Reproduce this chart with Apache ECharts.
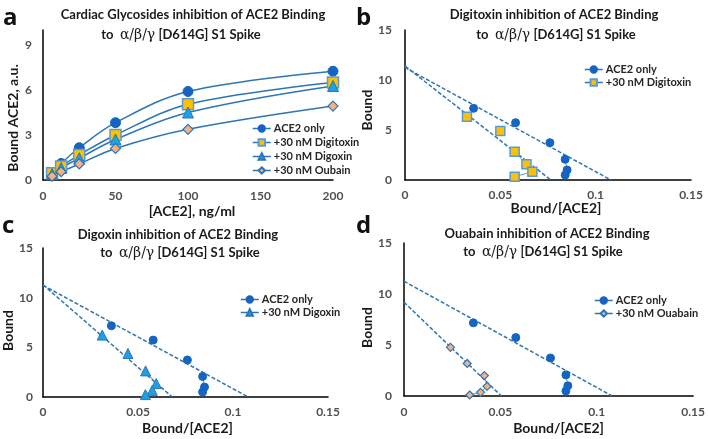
<!DOCTYPE html>
<html><head><meta charset="utf-8">
<script src="https://cdn.jsdelivr.net/npm/echarts@6/dist/echarts.min.js"></script>
<style>html,body{margin:0;padding:0;background:#fff}#c{width:708px;height:439px}</style>
</head><body><div id="c"></div>
<script>
// ---------- Panel a: saturation binding ----------
const concA = [6.25, 12.5, 25, 50, 100, 200];           // [ACE2], ng/ml
const aAce2 = [0.45, 1.1, 2.15, 3.82, 5.9, 7.25];
const aDigitoxin = [0.45, 0.9, 1.67, 3.0, 5.05, 6.5];
const aDigoxin = [0.4, 0.8, 1.45, 2.7, 4.5, 6.27];
const aOuabain = [0.25, 0.55, 1.07, 2.1, 3.38, 4.93];
const aYTicks = [0, 3, 6, 9];
const aXTicks = [0, 50, 100, 150, 200];

// ---------- Scatchard panels b, c, d: x = Bound/[ACE2], y = Bound ----------
const scAce2X = [0.036, 0.058, 0.076, 0.084, 0.085, 0.084];
const scAce2Y = [7.17, 5.73, 3.73, 2.07, 1.0, 0.5];
const scDigitoxinX = [0.0325, 0.05, 0.0575, 0.0637, 0.0668, 0.0575];
const scDigitoxinY = [6.33, 4.9, 2.83, 1.57, 0.83, 0.33];
const scDigoxinX = [0.0312, 0.0447, 0.054, 0.0596, 0.0575, 0.0539];
const scDigoxinY = [6.23, 4.38, 2.63, 1.35, 0.67, 0.24];
const scOuabainX = [0.0241, 0.0328, 0.0417, 0.0431, 0.0397, 0.0341];
const scOuabainY = [4.77, 3.19, 2.0, 0.95, 0.36, 0.1];
// linear fits: [Bound intercept, Bound/[ACE2] intercept]
const fitAce2 = [11.25, 0.108];
const fitDigitoxin = [11.4, 0.0765];
const fitDigoxin = [11.3, 0.068];
const fitOuabain = [9.2, 0.0505];
const scXTicks = [0, 0.05, 0.1, 0.15];
const scYTicks = [0, 5, 10, 15];

const FONT = 'Lato';
const BLUE = '#2e75b6';
const DOT = '#1565c0';
const zip = (xs, ys) => xs.map((x, i) => [x, ys[i]]);

const chart = echarts.init(document.getElementById('c'), null, {renderer: 'canvas'});

const labelStyle = (margin) => ({color: '#505050', fontWeight: 'bold', fontSize: 12, fontFamily: FONT, margin});
const nameStyle = (pad) => ({color: '#1a1a1a', fontWeight: 'bold', fontSize: 14, fontFamily: FONT, padding: pad});
const axLine = {show: true, lineStyle: {color: '#000', width: 1.5}};

function xAx(grid, min, max, interval, name, gap, margin, shift) {
  return {type: 'value', gridIndex: grid, min, max, interval, name, nameLocation: 'middle', nameGap: gap,
    nameTextStyle: nameStyle([0, 0, 0, 2 * shift]), axisLine: axLine, axisTick: {show: false}, splitLine: {show: false},
    axisLabel: labelStyle(margin)};
}
function yAx(grid, min, max, interval, name, gap, margin, shift, hideMax) {
  return {type: 'value', gridIndex: grid, min, max, interval, name, nameLocation: 'middle', nameGap: gap,
    nameTextStyle: nameStyle([0, 2 * shift, 0, 0]), axisLine: axLine, axisTick: {show: false}, splitLine: {show: false},
    axisLabel: Object.assign(labelStyle(margin), {showMaxLabel: !hideMax})};
}

const styles = {
  ace2: {symbol: 'circle', itemStyle: {color: DOT, borderColor: DOT, borderWidth: 1}},
  digitoxin: {symbol: 'rect', itemStyle: {color: '#ffc000', borderColor: '#5b9bd5', borderWidth: 1.5}},
  digoxin: {symbol: 'triangle', itemStyle: {color: '#1ea0e6', borderColor: BLUE, borderWidth: 1}},
  ouabain: {symbol: 'diamond', itemStyle: {color: '#f4b183', borderColor: BLUE, borderWidth: 1.2}}
};

const series = [];
// Panel a
[['ACE2 only#a', aAce2, 'ace2', 10], ['+30 nM Digitoxin#a', aDigitoxin, 'digitoxin', 11],
 ['+30 nM Digoxin#a', aDigoxin, 'digoxin', 11], ['+30 nM Oubain#a', aOuabain, 'ouabain', 10]]
 .forEach(([name, ys, st, size]) => {
  series.push(Object.assign({type: 'line', name, xAxisIndex: 0, yAxisIndex: 0, smooth: 0.35,
    data: zip(concA, ys), symbolSize: size, lineStyle: {color: BLUE, width: 1.5}, z: 3}, styles[st]));
});

function scatchard(idx, panel, name, st, xs, ys, size, fit, connFrom) {
  series.push(Object.assign({type: 'line', name: name + '#' + panel, xAxisIndex: idx, yAxisIndex: idx,
    data: zip(xs, ys), symbolSize: size, lineStyle: {color: BLUE, width: 1, opacity: 0}, z: 4}, styles[st]));
  series.push({type: 'line', xAxisIndex: idx, yAxisIndex: idx, data: zip(xs, ys).slice(connFrom),
    symbol: 'none', lineStyle: {color: '#5b9bd5', width: 1}, z: 2, silent: true});
  series.push({type: 'line', xAxisIndex: idx, yAxisIndex: idx, data: [[0, fit[0]], [fit[1], 0]],
    symbol: 'none', lineStyle: {color: BLUE, width: 1.5, type: [4, 2]}, z: 2, silent: true});
}
scatchard(1, 'b', 'ACE2 only', 'ace2', scAce2X, scAce2Y, 8, fitAce2, 3);
scatchard(1, 'b', '+30 nM Digitoxin', 'digitoxin', scDigitoxinX, scDigitoxinY, 9, fitDigitoxin, 2);
scatchard(2, 'c', 'ACE2 only', 'ace2', scAce2X, scAce2Y, 8, fitAce2, 3);
scatchard(2, 'c', '+30 nM Digoxin', 'digoxin', scDigoxinX, scDigoxinY, 10, fitDigoxin, 2);
scatchard(3, 'd', 'ACE2 only', 'ace2', scAce2X, scAce2Y, 8, fitAce2, 3);
scatchard(3, 'd', '+30 nM Ouabain', 'ouabain', scOuabainX, scOuabainY, 8, fitOuabain, 2);

function legend(panel, names, left, top, gap) {
  return {orient: 'vertical', left, top, padding: 0, itemGap: gap, itemWidth: 18, itemHeight: 8,
    data: names.map(n => n + '#' + panel), formatter: n => n.split('#')[0],
    lineStyle: {opacity: 1, width: 1.5, color: BLUE},
    textStyle: {fontFamily: FONT, fontWeight: 'bold', fontSize: 11, color: '#262626', padding: [0, 0, 0, -2]},
    selectedMode: false};
}

function titleLines(cx1, y1, cx2, y2, line1) {
  return [
    {type: 'text', style: {x: cx1, y: y1, text: line1, align: 'center', verticalAlign: 'middle',
      font: 'bold 13px ' + FONT, fill: '#1a1a1a'}},
    {type: 'text', style: {x: cx2, y: y2, align: 'center', verticalAlign: 'middle',
      text: '{b|to  }{g|α/β/γ}{b| [D614G] S1 Spike}',
      rich: {b: {fontFamily: FONT, fontWeight: 'bold', fontSize: 13, fill: '#1a1a1a'},
             g: {fontFamily: 'DejaVu Serif', fontSize: 14, fill: '#1a1a1a'}}}}
  ];
}
function letter(x, y, t) {
  return {type: 'text', style: {x, y, text: t, font: 'bold 24px "Open Sans"', fill: '#111', verticalAlign: 'bottom'}};
}

const option = {
  animation: false,
  backgroundColor: '#fff',
  grid: [
    {left: 43, top: 30, width: 290, height: 150},
    {left: 405, top: 30, width: 286, height: 150},
    {left: 43, top: 248, width: 285, height: 149},
    {left: 404, top: 243, width: 290, height: 153}
  ],
  xAxis: [
    xAx(0, aXTicks[0], aXTicks[aXTicks.length - 1], aXTicks[1] - aXTicks[0], '[ACE2], ng/ml', 24, 10, 4),
    xAx(1, scXTicks[0], scXTicks[3], 0.05, 'Bound/[ACE2]', 21, 9, 8),
    xAx(2, scXTicks[0], scXTicks[3], 0.05, 'Bound/[ACE2]', 24, 9, 2),
    xAx(3, scXTicks[0], scXTicks[3], 0.05, 'Bound/[ACE2]', 25, 10, 10)
  ],
  yAxis: [
    yAx(0, aYTicks[0], 10, aYTicks[1] - aYTicks[0], 'Bound ACE2, a.u.', 23, 11, 13, true),
    yAx(1, scYTicks[0], scYTicks[3], 5, 'Bound', 24, 13, 5),
    yAx(2, scYTicks[0], scYTicks[3], 5, 'Bound', 19, 10, 8),
    yAx(3, scYTicks[0], scYTicks[3], 5, 'Bound', 23, 12, 8)
  ],
  legend: [
    legend('a', ['ACE2 only', '+30 nM Digitoxin', '+30 nM Digoxin', '+30 nM Oubain'], 252, 123, 3),
    legend('b', ['ACE2 only', '+30 nM Digitoxin'], 584, 64, 2),
    legend('c', ['ACE2 only', '+30 nM Digoxin'], 240, 294, 2),
    legend('d', ['ACE2 only', '+30 nM Ouabain'], 594, 295, 2)
  ],
  graphic: [].concat(
    titleLines(193, 15, 181, 35, 'Cardiac Glycosides inhibition of ACE2 Binding'),
    titleLines(554, 15, 556, 35, 'Digitoxin inhibition of ACE2 Binding'),
    titleLines(178, 235, 180, 253, 'Digoxin inhibition of ACE2 Binding'),
    titleLines(547, 234, 543, 252, 'Ouabain inhibition of ACE2 Binding'),
    [letter(3, 30, 'a'), letter(356, 30, 'b'), letter(2, 238, 'c'), letter(356, 238, 'd')]
  ),
  series
};
chart.setOption(option);
</script>
</body></html>
